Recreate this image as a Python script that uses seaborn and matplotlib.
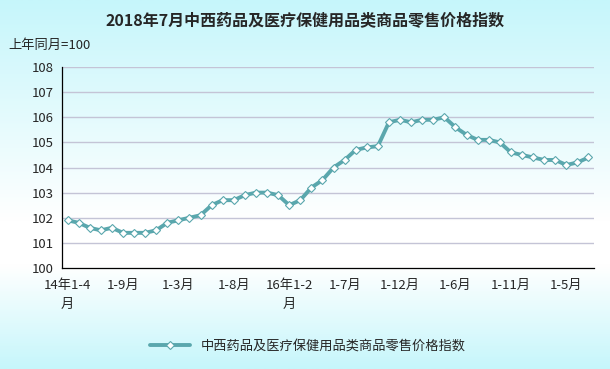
import numpy as np
import pandas as pd
import matplotlib
matplotlib.use("Agg")
import matplotlib.pyplot as plt
from matplotlib.colors import LinearSegmentedColormap
import seaborn as sns

# ============================================================
# DATOS
# ============================================================
titulo = "2018年7月中西药品及医疗保健用品类商品零售价格指数"
serie = "中西药品及医疗保健用品类商品零售价格指数"
unidad = "上年同月=100"

periodos = (
    [f"14年1-{m}月" for m in range(4, 13)]
    + [f"15年1-{m}月" for m in range(2, 13)]
    + [f"16年1-{m}月" for m in range(2, 13)]
    + [f"17年1-{m}月" for m in range(2, 13)]
    + [f"18年1-{m}月" for m in range(2, 8)]
)
valores = [
    101.9, 101.8, 101.6, 101.5, 101.6, 101.4, 101.4, 101.4, 101.5,
    101.8, 101.9, 102.0, 102.1, 102.5, 102.7, 102.7, 102.9, 103.0, 103.0, 102.9, 102.5,
    102.7, 103.2, 103.5, 104.0, 104.3, 104.7, 104.8, 104.85, 105.8, 105.9, 105.8,
    105.9, 105.9, 106.0, 105.6, 105.3, 105.1, 105.1, 105.0, 104.6, 104.5, 104.4,
    104.3, 104.3, 104.1, 104.2, 104.4,
]
etiquetas = ["14年1-4\n月", "1-9月", "1-3月", "1-8月", "16年1-2\n月",
             "1-7月", "1-12月", "1-6月", "1-11月", "1-5月"]
yticks = list(range(100, 109))

df = pd.DataFrame({"idx": np.arange(len(valores)), "valor": valores, "serie": serie})

# ============================================================
# FIGURA
# ============================================================
sns.set_style("white")
plt.rcParams["font.family"] = ["Noto Sans CJK SC", "DejaVu Sans"]

fig = plt.figure(figsize=(6.1, 3.69), dpi=100)

# fondo degradado cian -> blanco -> cian
bg = fig.add_axes([0, 0, 1, 1], zorder=-10)
grad = LinearSegmentedColormap.from_list(
    "fondo", [(0, "#c6f6fb"), (0.6, "#ffffff"), (0.72, "#ffffff"), (1, "#c6f6fb")])
bg.imshow(np.linspace(0, 1, 256).reshape(-1, 1), aspect="auto", cmap=grad,
          extent=[0, 1, 0, 1], transform=bg.transAxes)
bg.axis("off")

ax = fig.add_axes([0.1016, 0.2737, 0.8722, 0.5447])
ax.patch.set_alpha(0)

color = "#5aa7ad"
sns.lineplot(data=df, x="idx", y="valor", hue="serie", palette=[color], ax=ax,
             linewidth=2.8, marker="D", markersize=3.6, markerfacecolor="white",
             markeredgecolor=color, markeredgewidth=0.8)

ax.set_xlim(-0.5, len(valores) - 0.5)
ax.set_ylim(100, 108)
ax.set_yticks(yticks)
ax.set_yticklabels([str(v) for v in yticks], fontsize=9.5)
ax.set_xticks(np.arange(0, len(valores), 5))
ax.set_xticklabels(etiquetas, fontsize=9.5, linespacing=1.6, va="top")
ax.set_xticks(np.arange(len(valores) + 1) - 0.5, minor=True)
ax.tick_params(axis="x", which="major", length=0, pad=8)
ax.tick_params(axis="x", which="minor", direction="in", length=4, width=0.8, color="black")
ax.tick_params(axis="y", direction="in", length=4, width=0.8, color="black", pad=6)

for v in yticks[1:]:
    ax.axhline(v, color="#c4c4d6", linewidth=1, zorder=0)

for s in ["top", "right"]:
    ax.spines[s].set_visible(False)
for s in ["left", "bottom"]:
    ax.spines[s].set_color("black")
    ax.spines[s].set_linewidth(0.9)

ax.set_xlabel("")
ax.set_ylabel("")

fig.text(0.5, 0.945, titulo, ha="center", va="center", fontsize=11.5, fontweight="bold")
fig.text(0.013, 0.878, unidad, ha="left", va="center", fontsize=9.5)

leg = ax.legend(loc="center", bbox_to_anchor=(0.505, 0.062), bbox_transform=fig.transFigure,
                frameon=False, fontsize=9.5, handlelength=3)

fig.savefig("out.png", dpi=100)
